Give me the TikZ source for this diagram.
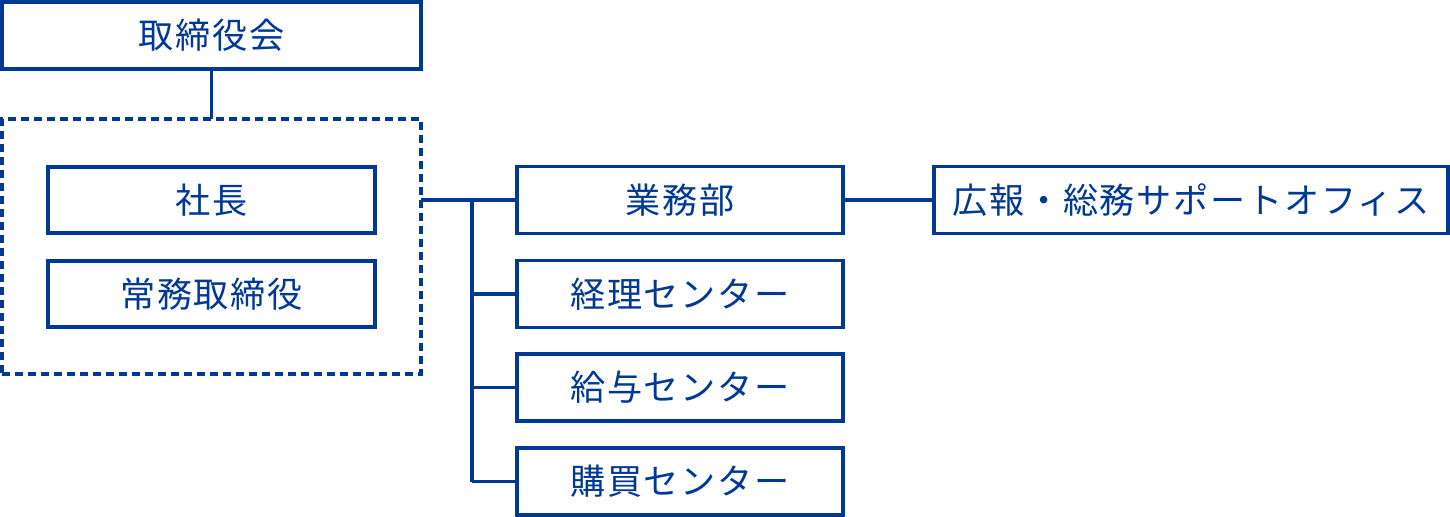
\documentclass[tikz,border=0pt]{standalone}
\usepackage{fontspec}
\setmainfont[LetterSpace=5]{Noto Sans CJK JP}
\usepackage{tikz-network}
\definecolor{orgblue}{RGB}{0,56,150}
\newcommand{\boxfont}{\fontsize{20pt}{23pt}\selectfont}

\begin{document}
\begin{tikzpicture}

\useasboundingbox (0,0) rectangle (29,-10.34);

\SetVertexStyle[Shape=rectangle, MinSize=0, LineWidth=2pt, InnerSep=0, OuterSep=0, FillColor=white, LineColor=orgblue, TextColor=orgblue, TextFont=\boxfont]
\SetEdgeStyle[Color=orgblue, LineWidth=2pt]

\Vertex[x=4.23,y=-0.71,shape=rectangle,label=取締役会,style={minimum width=8.38cm,minimum height=1.34cm}]{board}
\Vertex[x=4.23,y=-4.93,shape=rectangle,style={dash pattern=on 4.6pt off 2.8pt,minimum width=8.38cm,minimum height=5.1cm}]{exec}
\Vertex[x=4.23,y=-4.0,shape=rectangle,label=社長,style={minimum width=6.54cm,minimum height=1.32cm}]{pres}
\Vertex[x=4.23,y=-5.88,shape=rectangle,label=常務取締役,style={minimum width=6.54cm,minimum height=1.32cm}]{mdir}

\Vertex[x=13.6,y=-4.0,shape=rectangle,label=業務部,style={minimum width=6.52cm,minimum height=1.34cm}]{gyomu}
\Vertex[x=13.6,y=-5.88,shape=rectangle,label=経理センター,style={minimum width=6.52cm,minimum height=1.34cm}]{keiri}
\Vertex[x=13.6,y=-7.75,shape=rectangle,label=給与センター,style={minimum width=6.52cm,minimum height=1.34cm}]{kyuyo}
\Vertex[x=13.6,y=-9.63,shape=rectangle,label=購買センター,style={minimum width=6.52cm,minimum height=1.34cm}]{kobai}
\Vertex[x=23.82,y=-4.0,shape=rectangle,label=広報・総務サポートオフィス,style={minimum width=10.28cm,minimum height=1.34cm}]{koho}

\Vertex[Pseudo,x=8.42,y=-4.0]{J_0}
\Vertex[Pseudo,x=9.44,y=-4.0]{J_1}
\Vertex[Pseudo,x=9.44,y=-5.88]{J_2}
\Vertex[Pseudo,x=9.44,y=-7.75]{J_3}
\Vertex[Pseudo,x=9.44,y=-9.63]{J_4}

\Edge(board)(exec)
\Edge(J_0)(gyomu)
\Edge(J_1)(J_4)
\Edge(J_2)(keiri)
\Edge(J_3)(kyuyo)
\Edge(J_4)(kobai)
\Edge(gyomu)(koho)

\end{tikzpicture}
\end{document}
